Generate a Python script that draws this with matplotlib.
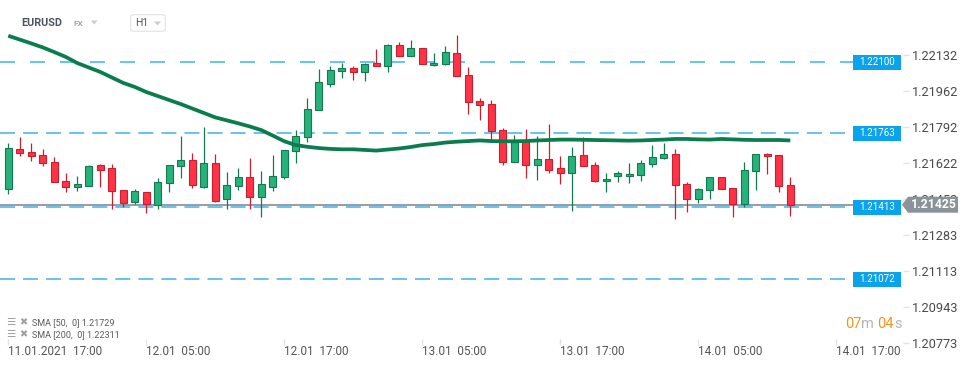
import matplotlib
matplotlib.use('Agg')
import matplotlib.pyplot as plt
from matplotlib.patches import Rectangle, Polygon, FancyBboxPatch
import numpy as np

plt.rcParams['font.family'] = ['Roboto', 'DejaVu Sans']
plt.rcParams['lines.scale_dashes'] = False

W, H = 970, 368

# EURUSD H1 candles, 11.01.2021 17:00 .. 14.01.2021 13:00
opens = [1.21498, 1.21687, 1.21673, 1.21659, 1.21626, 1.21536, 1.21507, 1.21512, 1.21611, 1.21597,
         1.21493, 1.21436, 1.21484, 1.21424, 1.21526, 1.21607, 1.21635, 1.21510, 1.21621, 1.21451,
         1.21512, 1.21555, 1.21460, 1.21507, 1.21555, 1.21678, 1.21744, 1.21872, 1.21995, 1.22056,
         1.22070, 1.22051, 1.22094, 1.22080, 1.22179, 1.22127, 1.22165, 1.22084, 1.22089, 1.22141,
         1.22037, 1.21914, 1.21900, 1.21777, 1.21626, 1.21730, 1.21611, 1.21640, 1.21597, 1.21574,
         1.21659, 1.21611, 1.21536, 1.21559, 1.21559, 1.21564, 1.21616, 1.21645, 1.21663, 1.21522,
         1.21451, 1.21493, 1.21555, 1.21503, 1.21427, 1.21583, 1.21663, 1.21659, 1.21517]
highs = [1.21715, 1.21744, 1.21715, 1.21687, 1.21651, 1.21574, 1.21561, 1.21611, 1.21618, 1.21618,
         1.21493, 1.21498, 1.21484, 1.21550, 1.21611, 1.21750, 1.21668, 1.21793, 1.21665, 1.21580,
         1.21599, 1.21646, 1.21583, 1.21660, 1.21682, 1.21778, 1.21928, 1.22065, 1.22080, 1.22097,
         1.22080, 1.22094, 1.22160, 1.22184, 1.22193, 1.22203, 1.22165, 1.22141, 1.22174, 1.22226,
         1.22075, 1.21928, 1.21919, 1.21786, 1.21753, 1.21782, 1.21749, 1.21805, 1.21654, 1.21697,
         1.21744, 1.21626, 1.21574, 1.21583, 1.21621, 1.21635, 1.21706, 1.21715, 1.21687, 1.21531,
         1.21503, 1.21555, 1.21555, 1.21503, 1.21626, 1.21663, 1.21668, 1.21659, 1.21555]
lows = [1.21474, 1.21657, 1.21633, 1.21610, 1.21531, 1.21487, 1.21491, 1.21512, 1.21510, 1.21406,
        1.21413, 1.21428, 1.21387, 1.21403, 1.21487, 1.21553, 1.21505, 1.21505, 1.21439, 1.21406,
        1.21496, 1.21406, 1.21368, 1.21491, 1.21548, 1.21624, 1.21723, 1.21872, 1.21983, 1.22026,
        1.22016, 1.22012, 1.22080, 1.22054, 1.22127, 1.22127, 1.22089, 1.22080, 1.22084, 1.22032,
        1.21855, 1.21824, 1.21730, 1.21611, 1.21626, 1.21550, 1.21540, 1.21574, 1.21522, 1.21397,
        1.21607, 1.21531, 1.21483, 1.21534, 1.21526, 1.21536, 1.21602, 1.21640, 1.21356, 1.21389,
        1.21432, 1.21451, 1.21498, 1.21365, 1.21413, 1.21493, 1.21569, 1.21484, 1.21370]
closes = [1.21692, 1.21668, 1.21654, 1.21621, 1.21531, 1.21507, 1.21522, 1.21607, 1.21591, 1.21488,
          1.21435, 1.21488, 1.21427, 1.21531, 1.21611, 1.21635, 1.21517, 1.21621, 1.21444, 1.21517,
          1.21555, 1.21460, 1.21522, 1.21559, 1.21682, 1.21749, 1.21876, 1.22004, 1.22061, 1.22070,
          1.22051, 1.22089, 1.22080, 1.22179, 1.22127, 1.22165, 1.22089, 1.22094, 1.22146, 1.22032,
          1.21909, 1.21895, 1.21772, 1.21626, 1.21725, 1.21611, 1.21640, 1.21588, 1.21574, 1.21654,
          1.21607, 1.21536, 1.21545, 1.21574, 1.21569, 1.21621, 1.21649, 1.21663, 1.21517, 1.21451,
          1.21498, 1.21555, 1.21498, 1.21426, 1.21588, 1.21663, 1.21654, 1.21512, 1.21425]
sma50 = [1.22224, 1.22206, 1.22188, 1.22169, 1.22147, 1.22124, 1.22095, 1.22074, 1.22053, 1.22027,
         1.22001, 1.21982, 1.21958, 1.21939, 1.21920, 1.21901, 1.21880, 1.21859, 1.21838, 1.21824,
         1.21810, 1.21795, 1.21778, 1.21752, 1.21725, 1.21707, 1.21699, 1.21693, 1.21689, 1.21687,
         1.21687, 1.21684, 1.21681, 1.21686, 1.21691, 1.21698, 1.21707, 1.21712, 1.21719, 1.21723,
         1.21726, 1.21729, 1.21726, 1.21725, 1.21725, 1.21726, 1.21729, 1.21731, 1.21733, 1.21733,
         1.21732, 1.21731, 1.21730, 1.21729, 1.21728, 1.21729, 1.21731, 1.21733, 1.21736, 1.21736,
         1.21734, 1.21733, 1.21736, 1.21734, 1.21732, 1.21731, 1.21731, 1.21731, 1.21729]

levels = [1.22100, 1.21763, 1.21413, 1.21072]
last_price = 1.21425
y_ticks = [1.22132, 1.21962, 1.21792, 1.21622, 1.21452, 1.21283, 1.21113, 1.20943, 1.20773]
x_tick_pos = [0, 12, 24, 36, 48, 60, 72]
x_tick_labels = ['11.01.2021  17:00', '12.01  05:00', '12.01  17:00', '13.01  05:00',
                 '13.01  17:00', '14.01  05:00', '14.01  17:00']
sma_legend = ['SMA [50,  0] 1.21729', 'SMA [200,  0] 1.22311']


def fx(x):
    return x / W


def fy(y):
    return 1 - y / H


fig = plt.figure(figsize=(W / 100, H / 100), dpi=100, facecolor='white')
ax = fig.add_axes([0, 23 / H, 903 / W, 345 / H])
ymin, ymax = 1.207614, 1.223933
ax.set_ylim(ymin, ymax)
ax.set_xlim(-0.72, 77.8)
ppx = (ymax - ymin) / 345  # price per pixel, for label box sizes
for s in ax.spines.values():
    s.set_visible(False)

# levels (dashed) with blue price boxes
yx = ax.get_yaxis_transform()
for k, lvl in enumerate(levels):
    dash = (10.8, 10.8) if k == 0 else (10.8, 5.8)
    ax.plot([0, 853 / 903], [lvl, lvl], color='#4db8ef', lw=1.2, dashes=dash,
            transform=yx, zorder=2, clip_on=False)
    ax.add_patch(Rectangle((853 / 903, lvl - 7.5 * ppx), 48 / 903, 15 * ppx, transform=yx,
                           facecolor='#0aa3ec', edgecolor='none', clip_on=False, zorder=6))
    ax.text(877 / 903, lvl, f'{lvl:.5f}', transform=yx, ha='center', va='center',
            color='white', fontsize=7, zorder=7, clip_on=False)

# last price line
ax.plot([0, 853 / 903], [last_price, last_price], color='#8d969c', lw=1.3,
        transform=yx, zorder=2, clip_on=False)

# candles
idx = np.arange(len(opens))
o = np.array(opens)
c = np.array(closes)
up = c >= o
fill = np.where(up, '#27b27b', '#ff3347')
edge = np.where(up, '#137a50', '#c8202f')
ax.vlines(idx, lows, highs, colors=edge, lw=0.9, zorder=3)
bottom = np.minimum(o, c)
height = np.maximum(np.abs(c - o), 0.00003)
ax.bar(idx, height, 0.58, bottom=bottom, color=fill, edgecolor=edge, linewidth=0.8, zorder=4)

# SMA 50
ax.plot(idx, sma50, color='#0a7d4e', lw=2.7, zorder=5, solid_capstyle='butt')

# axes ticks
ax.yaxis.tick_right()
ax.set_yticks(y_ticks, [f'{v:.5f}' for v in y_ticks])
ax.tick_params(axis='y', length=4, width=1, color='#e3e3e3', labelsize=9.2,
               labelcolor='#4a4a4a', pad=2.5)
ax.set_xticks(x_tick_pos, x_tick_labels)
for lbl in ax.get_xticklabels():
    lbl.set_ha('left')
ax.tick_params(axis='x', direction='in', length=4, width=1, color='#e3e3e3',
               labelsize=8.5, labelcolor='#555555', pad=0)

# last price tag
tag = Polygon([(902 / 903, last_price), (908 / 903, last_price + 8 * ppx),
               (958 / 903, last_price + 8 * ppx), (958 / 903, last_price - 8 * ppx),
               (908 / 903, last_price - 8 * ppx)], closed=True, transform=yx,
              facecolor='#8a9399', edgecolor='none', clip_on=False, zorder=20)
ax.add_patch(tag)
ax.text(910.5 / 903, last_price, f'{last_price:.5f}', transform=yx, ha='left', va='center',
        color='white', fontsize=8.8, fontweight='bold', zorder=21, clip_on=False)

# header
fig.text(fx(21), fy(23), 'EURUSD', fontsize=7.8, fontweight='bold', color='#4b5661',
         ha='left', va='center')
fig.text(fx(74), fy(24), 'FX', fontsize=6, fontweight='bold', color='#a0a8b0',
         ha='left', va='center')
fig.add_artist(Polygon([(fx(91), fy(20.5)), (fx(97.5), fy(20.5)), (fx(94.2), fy(24.5))],
                       closed=True, facecolor='#c8cdd2', edgecolor='none',
                       transform=fig.transFigure))
fig.add_artist(FancyBboxPatch((fx(130.7), fy(31.3)), fx(34.6), 16.6 / H,
                              boxstyle='round,pad=0,rounding_size=0.004',
                              facecolor='white', edgecolor='#e2e2e2', lw=0.8,
                              transform=fig.transFigure))
fig.text(fx(135), fy(23), 'H1', fontsize=7.5, color='#555555', ha='left', va='center')
fig.add_artist(Polygon([(fx(154), fy(21.5)), (fx(161), fy(21.5)), (fx(157.5), fy(25.5))],
                       closed=True, facecolor='#c8cdd2', edgecolor='none',
                       transform=fig.transFigure))

# indicator legend
for k, txt in enumerate(sma_legend):
    yy = 322.3 + 12 * k
    fig.text(fx(6), fy(yy), '\u2630', fontsize=7.5, color='#a0a0a0', ha='left', va='center',
             family=['DejaVu Sans'])
    fig.text(fx(19.5), fy(yy), '\u2716', fontsize=7, color='#a0a0a0', ha='left', va='center',
             family=['DejaVu Sans'])
    fig.text(fx(32), fy(yy), txt, fontsize=6.5, color='#5a5a5a', ha='left', va='center')

# candle timer
fig.text(fx(845), fy(323.5), '07', fontsize=10.5, color='#f7931e', ha='left', va='center')
fig.text(fx(861), fy(323.5), 'm', fontsize=10.5, color='#b5b5b5', ha='left', va='center')
fig.text(fx(877.5), fy(323.5), '04', fontsize=10.5, color='#f7931e', ha='left', va='center')
fig.text(fx(894), fy(323.5), 's', fontsize=10.5, color='#b5b5b5', ha='left', va='center')

fig.savefig('out.png', dpi=100)
plt.close(fig)
